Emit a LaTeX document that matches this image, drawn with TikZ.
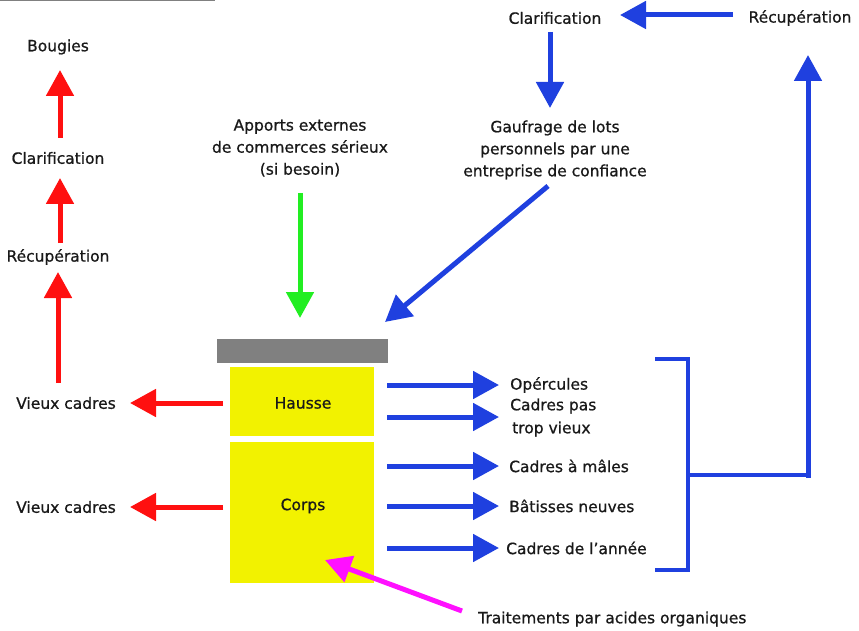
\documentclass[tikz,border=0pt]{standalone}
\usepackage{fontspec}
\setmainfont{DejaVu Sans}
\newfontfamily\lblfont{DejaVu Sans}[FakeBold=0.8]
\usetikzlibrary{arrows.meta}
\definecolor{ared}{HTML}{FF1010}
\definecolor{ablue}{HTML}{1F40DF}
\definecolor{agreen}{HTML}{22EE22}
\definecolor{amag}{HTML}{FF10FF}
\definecolor{ayel}{HTML}{F2F200}
\definecolor{agray}{HTML}{808080}
\tikzset{
  lbl/.style={inner sep=0pt, font=\lblfont\fontsize{15.5}{22}\selectfont, text=black!90, align=center},
  llbl/.style={lbl, anchor=west, align=left},
  arr/.style={line width=5pt, -{Triangle[length=26pt,width=27pt]}},
  redarr/.style={arr, draw=ared, fill=ared},
  bluearr/.style={arr, draw=ablue, fill=ablue},
  greenarr/.style={arr, draw=agreen, fill=agreen},
  magarr/.style={arr, draw=amag, fill=amag},
  box/.style={fill=ayel, draw=none, inner sep=0pt, minimum width=144pt},
}
\begin{document}
\begin{tikzpicture}[x=1pt,y=-1pt]
\useasboundingbox (0,0) rectangle (859,631);
\draw[agray, line width=1pt] (0,1) -- (215,1);
% left column
\node[lbl] (bougies) at (58,47) {Bougies};
\node[lbl] (clarL) at (58,158) {Clarification};
\node[lbl] (recL) at (58,257) {Récupération};
\node[lbl] (vc1) at (66,403) {Vieux cadres};
\node[lbl] (vc2) at (66,507) {Vieux cadres};
% hive
\node[fill=agray, inner sep=0pt, minimum width=171pt, minimum height=24pt] (lid) at (302.5,351) {};
\node[box, minimum height=69pt] (hausse) at (302,401.5) {};
\node[box, minimum height=141pt] (corps) at (302,512.5) {};
\node[lbl] (hausseT) at (303,403) {Hausse};
\node[lbl] (corpsT) at (303,506) {Corps};
% right labels
\node[llbl] (operc) at (510,385) {Opércules};
\node[llbl] (cpas) at (510,406) {Cadres pas};
\node[llbl] (tvieux) at (512,429) {trop vieux};
\node[llbl] (males) at (509,466) {Cadres à mâles};
\node[llbl] (batis) at (509,506) {Bâtisses neuves};
\node[llbl] (annee) at (506,548) {Cadres de l’année};
\node[llbl] (trait) at (478,619) {Traitements par acides organiques};
% top labels
\node[lbl] (recT) at (800,18) {Récupération};
\node[lbl] (clarT) at (555,18) {Clarification};
\node[lbl, align=center] (gauf) at (555,150) {Gaufrage de lots\\personnels par une\\entreprise de confiance};
\node[lbl, align=center] (apports) at (300,148) {Apports externes\\de commerces sérieux\\(si besoin)};
% coordinates
\coordinate (a1s) at (60,138); \coordinate (a1e) at (60,70);
\coordinate (a2s) at (60,243); \coordinate (a2e) at (60,178);
\coordinate (a3s) at (58,383); \coordinate (a3e) at (58,272);
\coordinate (v1s) at (223,403); \coordinate (v1e) at (130,403);
\coordinate (v2s) at (223,507); \coordinate (v2e) at (130,507);
\foreach \y/\n in {385/o,417/c,466/m,506/b,548/a}{
  \coordinate (r\n s) at (387,\y); \coordinate (r\n e) at (499,\y);
}
\coordinate (br1) at (655,359); \coordinate (br2) at (688,359);
\coordinate (br3) at (688,570); \coordinate (br4) at (655,570);
\coordinate (brm) at (688,475); \coordinate (brc) at (808,475);
\coordinate (brt) at (808,55);
\coordinate (t1s) at (733,15); \coordinate (t1e) at (620,15);
\coordinate (t2s) at (550,32); \coordinate (t2e) at (550,108);
\coordinate (dgs) at (548,186); \coordinate (dge) at (385,322);
\coordinate (gs) at (300,193); \coordinate (ge) at (300,318);
\coordinate (ms) at (462,611); \coordinate (me) at (325,560);
% red arrows
\draw[redarr] (a1s) -- (a1e);
\draw[redarr] (a2s) -- (a2e);
\draw[redarr] (a3s) -- (a3e);
\draw[redarr] (v1s) -- (v1e);
\draw[redarr] (v2s) -- (v2e);
% blue arrows
\foreach \n in {o,c,m,b,a}{ \draw[bluearr] (r\n s) -- (r\n e); }
\draw[ablue, line width=4pt, line join=miter] (br1) -- (br2) -- (br3) -- (br4);
\draw[ablue, line width=4pt] (brm) -- (brc);
\draw[bluearr, line join=miter] ([xshift=-2pt]brc) -- (brc) -- (brt);
\draw[bluearr] (t1s) -- (t1e);
\draw[bluearr] (t2s) -- (t2e);
\draw[bluearr] (dgs) -- (dge);
\draw[greenarr] (gs) -- (ge);
\draw[magarr] (ms) -- (me);
\end{tikzpicture}
\end{document}
